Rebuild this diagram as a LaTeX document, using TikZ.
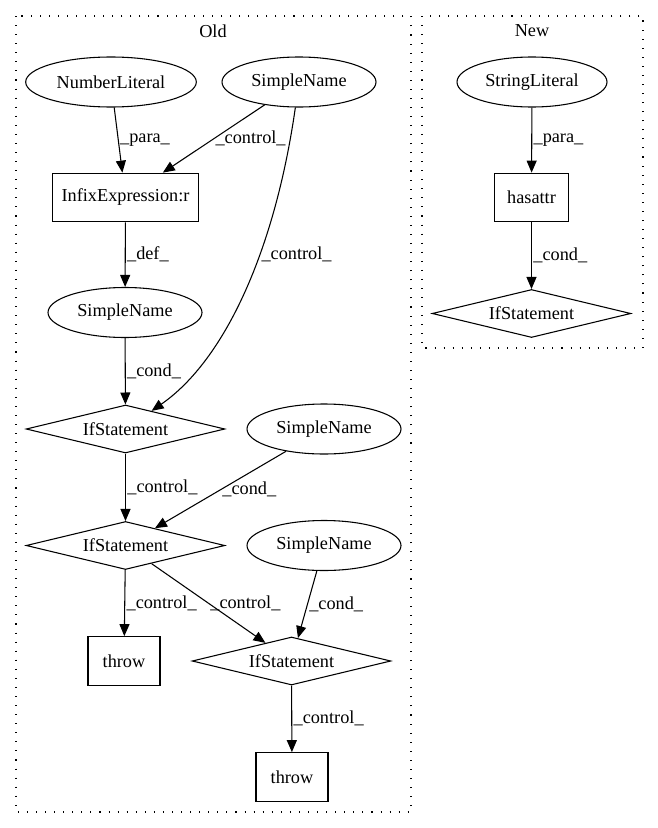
\documentclass[tikz,border=0pt]{standalone}
\usepackage{fontspec}
\setmainfont{Liberation Serif}
\usetikzlibrary{arrows.meta,shapes.geometric}

\begin{document}
\begin{tikzpicture}[x=0.75pt, y=-0.75pt,
		font=\fontsize{13.7}{16}\selectfont,
		ellnode/.style={draw, ellipse, line width=0.8pt, minimum height=37.5pt, inner sep=0pt},
		boxnode/.style={draw, rectangle, line width=0.8pt, minimum height=36.5pt, inner sep=0pt},
		ifnode/.style={draw, diamond, aspect=4, line width=0.8pt, minimum width=149pt, minimum height=36pt, inner sep=0pt},
		cluster/.style={draw, line width=0.8pt, dash pattern=on 0.8pt off 6pt},
		flow/.style={-{Triangle[length=9pt,width=7.5pt]}, line width=0.8pt},
		lab/.style={right, inner sep=1pt}]
			%%%%% START %%%%%
			
			\useasboundingbox (0,0) rectangle (657,828);
			
			\draw[cluster] (16,16) rectangle (411,812);
			\draw[cluster] (422,16) rectangle (643,348);
			\node (old) at (213,31) {Old};
			\node (new) at (532,31) {New};
			
			\node[ellnode, minimum width=128pt] (numlit) at (111,82) {NumberLiteral};
			\node[ellnode, minimum width=115.5pt] (sname1) at (299,82) {SimpleName};
			\node[boxnode, minimum width=110pt] (infix) at (125.5,197.5) {InfixExpression:r};
			\node[ellnode, minimum width=115.5pt] (sname2) at (125,312.5) {SimpleName};
			\node[ifnode] (if1) at (125.5,429) {IfStatement};
			\node[ellnode, minimum width=115.5pt] (sname3) at (324,429) {SimpleName};
			\node[ifnode] (if2) at (125.5,545.5) {IfStatement};
			\node[ellnode, minimum width=115.5pt] (sname4) at (324,545.5) {SimpleName};
			\node[boxnode, minimum width=54pt] (throw1) at (124,661) {throw};
			\node[ifnode] (if3) at (291.5,661) {IfStatement};
			\node[boxnode, minimum width=54pt] (throw2) at (292,777) {throw};
			
			\node[ellnode, minimum width=112.5pt] (strlit) at (532,82) {StringLiteral};
			\node[boxnode, minimum width=55pt] (hasattr) at (531.5,197.5) {hasattr};
			\node[ifnode] (if4) at (531.5,313.5) {IfStatement};
			
			\draw[flow] (numlit) -- (infix) node[lab, midway] {\_para\_};
			\draw[flow] (sname1) -- (infix) node[lab, midway] {\_control\_};
			\draw[flow] (sname1) .. controls (275,250) and (225,360) .. (if1) node[lab, pos=0.38] {\_control\_};
			\draw[flow] (infix) -- (sname2) node[lab, midway] {\_def\_};
			\draw[flow] (sname2) -- (if1) node[lab, midway] {\_cond\_};
			\draw[flow] (if1) -- (if2) node[lab, midway] {\_control\_};
			\draw[flow] (sname3) -- (if2) node[lab, midway] {\_cond\_};
			\draw[flow] (if2) -- (throw1) node[lab, midway] {\_control\_};
			\draw[flow] (if2) -- (if3) node[lab, midway] {\_control\_};
			\draw[flow] (sname4) -- (if3) node[lab, midway] {\_cond\_};
			\draw[flow] (if3) -- (throw2) node[lab, midway] {\_control\_};
			
			\draw[flow] (strlit) -- (hasattr) node[lab, midway] {\_para\_};
			\draw[flow] (hasattr) -- (if4) node[lab, midway] {\_cond\_};
			
			%%%%% END %%%%%
\end{tikzpicture}
\end{document}
